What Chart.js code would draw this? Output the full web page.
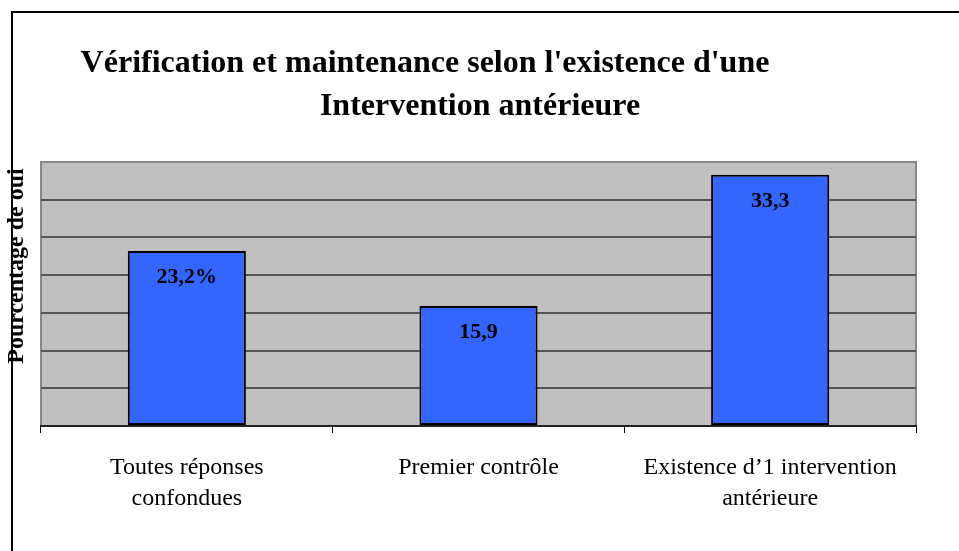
<!DOCTYPE html>
<html>
<head>
<meta charset="utf-8">
<script src="https://cdn.jsdelivr.net/npm/chart.js@4/dist/chart.umd.min.js"></script>
<style>
  html, body { margin: 0; padding: 0; background: #fff; }
  #wrap { width: 959px; height: 551px; position: relative; }
</style>
</head>
<body>
<div id="wrap"><canvas id="myChart"></canvas></div>
<script>
// data
const categories = [
  ['Toutes réponses', 'confondues'],
  'Premier contrôle',
  ['Existence d\u20191 intervention', 'antérieure']
];
const values = [23.2, 15.9, 33.3];
const valueLabels = ['23,2%', '15,9', '33,3'];
const titleLines = ["Vérification et maintenance selon l'existence d'une", 'Intervention antérieure'];
const yTitle = 'Pourcentage de oui';

const serif = "'Liberation Serif', 'Times New Roman', serif";

// frame, plot background, title and y label
const decor = {
  id: 'decor',
  beforeDraw(chart) {
    const c = chart.ctx, a = chart.chartArea;
    c.save();
    c.fillStyle = '#c0c0c0';
    c.fillRect(a.left, a.top, a.right - a.left, a.bottom - a.top);
    c.strokeStyle = '#888';
    c.lineWidth = 2;
    c.strokeRect(a.left, a.top, a.right - a.left, a.bottom - a.top);
    c.restore();
  },
  afterDraw(chart) {
    const c = chart.ctx;
    c.save();
    // outer frame
    c.strokeStyle = '#000';
    c.lineWidth = 2;
    c.beginPath();
    c.moveTo(12, 551);
    c.lineTo(12, 12);
    c.lineTo(959, 12);
    c.stroke();

    c.fillStyle = '#000';
    c.textAlign = 'center';
    c.textBaseline = 'middle';
    c.font = 'bold 32px ' + serif;
    c.fillText(titleLines[0], 425, 64);
    c.fillText(titleLines[1], 480, 107);

    c.font = 'bold 24px ' + serif;
    c.translate(17, 266);
    c.rotate(-Math.PI / 2);
    c.fillText(yTitle, 0, 0);
    c.restore();

    // value labels inside bars
    const meta = chart.getDatasetMeta(0);
    c.save();
    c.fillStyle = '#000';
    c.font = 'bold 22px ' + serif;
    c.textAlign = 'center';
    c.textBaseline = 'middle';
    meta.data.forEach((bar, i) => {
      c.fillText(valueLabels[i], bar.x, bar.y + 26);
    });
    c.restore();
  }
};

new Chart(document.getElementById('myChart'), {
  type: 'bar',
  data: {
    labels: categories,
    datasets: [{
      data: values,
      backgroundColor: '#3366ff',
      borderColor: '#000',
      borderWidth: 2,
      borderSkipped: false,
      barPercentage: 0.405,
      categoryPercentage: 1
    }]
  },
  options: {
    responsive: true,
    maintainAspectRatio: false,
    animation: false,
    layout: { padding: { left: 41, right: 43, top: 162, bottom: 0 } },
    scales: {
      x: {
        afterFit: s => { s.height = 125; },
        grid: {
          display: true,
          drawOnChartArea: false,
          drawTicks: true,
          tickLength: 7,
          offset: true,
          color: '#000',
          lineWidth: 1
        },
        border: { display: true, color: '#222', width: 2 },
        ticks: {
          color: '#000',
          padding: 19,
          maxRotation: 0,
          font: { family: serif, size: 24, lineHeight: 1.3 }
        }
      },
      y: {
        min: 0,
        max: 35,
        afterFit: s => { s.width = 0; },
        ticks: { display: false, stepSize: 5 },
        grid: {
          drawTicks: false,
          lineWidth: 2,
          color: ctx => (ctx.tick && (ctx.tick.value === 35 || ctx.tick.value === 0)) ? 'rgba(0,0,0,0)' : '#555'
        },
        border: { display: false }
      }
    },
    plugins: {
      legend: { display: false },
      tooltip: { enabled: false }
    }
  },
  plugins: [decor]
});
</script>
</body>
</html>
